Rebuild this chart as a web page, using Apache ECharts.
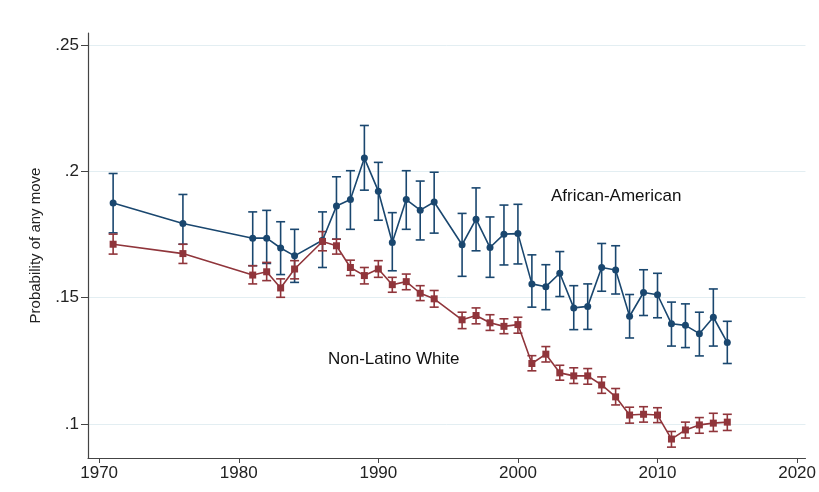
<!DOCTYPE html>
<html><head><meta charset="utf-8">
<script src="https://cdn.jsdelivr.net/npm/echarts@6/dist/echarts.min.js"></script>
<style>html,body{margin:0;padding:0;background:#fff}#c{width:819px;height:492px}</style>
</head><body><div id="c"></div>
<script>
const years = [1971,1976,1981,1982,1983,1984,1986,1987,1988,1989,1990,1991,1992,1993,1994,1996,1997,1998,1999,2000,2001,2002,2003,2004,2005,2006,2007,2008,2009,2010,2011,2012,2013,2014,2015];
const afAm     = [0.1874,0.1793,0.1735,0.1735,0.1696,0.1665,0.1727,0.1862,0.1888,0.2052,0.1921,0.1718,0.1888,0.1846,0.1878,0.1709,0.1810,0.1698,0.1751,0.1753,0.1554,0.1543,0.1596,0.1459,0.1465,0.1619,0.1609,0.1426,0.1520,0.1511,0.1396,0.1390,0.1357,0.1422,0.1322];
const afAmLow  = [0.1756,0.1711,0.1626,0.1635,0.1591,0.1560,0.1619,0.1731,0.1770,0.1925,0.1806,0.1606,0.1770,0.1728,0.1755,0.1584,0.1685,0.1580,0.1629,0.1633,0.1462,0.1452,0.1504,0.1373,0.1374,0.1525,0.1514,0.1340,0.1429,0.1420,0.1308,0.1302,0.1269,0.1308,0.1239];
const afAmHigh = [0.1991,0.1908,0.1839,0.1845,0.1800,0.1770,0.1839,0.1978,0.2002,0.2181,0.2035,0.1836,0.2002,0.1961,0.1996,0.1833,0.1934,0.1819,0.1866,0.1869,0.1669,0.1630,0.1682,0.1547,0.1554,0.1714,0.1705,0.1512,0.1610,0.1596,0.1482,0.1475,0.1442,0.1534,0.1406];
const white     = [0.1711,0.1674,0.1589,0.1602,0.1538,0.1613,0.1722,0.1705,0.1619,0.1587,0.1613,0.1551,0.1563,0.1517,0.1495,0.1412,0.1429,0.1400,0.1386,0.1393,0.1239,0.1276,0.1202,0.1190,0.1190,0.1154,0.1107,0.1035,0.1038,0.1035,0.0940,0.0976,0.0996,0.1003,0.1007];
const whiteLow  = [0.1672,0.1635,0.1554,0.1567,0.1501,0.1574,0.1685,0.1672,0.1587,0.1554,0.1580,0.1521,0.1531,0.1488,0.1462,0.1377,0.1396,0.1370,0.1357,0.1359,0.1210,0.1245,0.1173,0.1160,0.1157,0.1121,0.1075,0.1003,0.1007,0.1005,0.0908,0.0944,0.0963,0.0970,0.0974];
const whiteHigh = [0.1751,0.1711,0.1626,0.1639,0.1574,0.1646,0.1761,0.1731,0.1648,0.1619,0.1646,0.1580,0.1593,0.1547,0.1528,0.1442,0.1459,0.1432,0.1416,0.1422,0.1270,0.1306,0.1232,0.1222,0.1219,0.1186,0.1140,0.1066,0.1068,0.1064,0.0970,0.1007,0.1025,0.1042,0.1038];
const xTicks = [1970,1980,1990,2000,2010,2020];
const yTicks = [0.1,0.15,0.2,0.25];
const yTickLabels = ['.1','.15','.2','.25'];
const seriesNames = ['African-American','Non-Latino White'];

const BLUE = '#1a476f', RED = '#90353b';
const FONT = '"Liberation Sans",Arial,sans-serif';

function errData(lo, hi){ return years.map((y,i)=>[y, lo[i], hi[i]]); }
function errSeries(lo, hi, color){
  return {
    type:'custom', silent:true, z:2,
    data: errData(lo, hi),
    encode:{x:0, y:[1,2]},
    renderItem:function(params, api){
      const x = api.value(0);
      const p1 = api.coord([x, api.value(1)]);
      const p2 = api.coord([x, api.value(2)]);
      const w = 4.5;
      const st = {stroke:color, lineWidth:1.6};
      return {type:'group', children:[
        {type:'line', shape:{x1:p1[0],y1:p1[1],x2:p2[0],y2:p2[1]}, style:st},
        {type:'line', shape:{x1:p1[0]-w,y1:p1[1],x2:p1[0]+w,y2:p1[1]}, style:st},
        {type:'line', shape:{x1:p2[0]-w,y1:p2[1],x2:p2[0]+w,y2:p2[1]}, style:st}
      ]};
    }
  };
}

const chart = echarts.init(document.getElementById('c'), null, {renderer:'canvas'});
chart.setOption({
  animation:false,
  backgroundColor:'#fff',
  grid:{left:88, right:11, top:33, bottom:34, containLabel:false},
  xAxis:{
    type:'value', min:1969.2, max:2020.6,
    axisLine:{show:true, lineStyle:{color:'#444', width:1.2}},
    axisTick:{show:true, customValues:xTicks, length:5, lineStyle:{color:'#444'}},
    axisLabel:{customValues:xTicks, color:'#222', fontSize:17, fontFamily:FONT, margin:7,
      formatter:function(v){ return String(Math.round(v)); }},
    splitLine:{show:false}
  },
  yAxis:{
    type:'value', min:0.0865, max:0.2547,
    name:'Probability of any move', nameLocation:'middle', nameRotate:90, nameGap:45,
    nameTextStyle:{color:'#222', fontSize:15, fontFamily:FONT},
    axisLine:{show:true, lineStyle:{color:'#444', width:1.2}},
    axisTick:{show:true, customValues:yTicks, length:7, lineStyle:{color:'#444'}},
    axisLabel:{customValues:yTicks, color:'#222', fontSize:17, fontFamily:FONT, margin:9,
      formatter:function(v){ const i = yTicks.findIndex(t=>Math.abs(t-v)<1e-9); return i>=0 ? yTickLabels[i] : ''; }},
    splitLine:{show:true, lineStyle:{color:'#e3eef2', width:1}}
  },
  graphic:[
    {type:'text', left:551, top:188, style:{text:seriesNames[0], fill:'#111', fontSize:17, fontFamily:FONT}},
    {type:'text', left:328, top:351, style:{text:seriesNames[1], fill:'#111', fontSize:17, fontFamily:FONT}}
  ],
  series:[
    errSeries(afAmLow, afAmHigh, BLUE),
    errSeries(whiteLow, whiteHigh, RED),
    {name:seriesNames[0], type:'line', z:3, data:years.map((y,i)=>[y, afAm[i]]),
     symbol:'circle', symbolSize:7, lineStyle:{color:BLUE, width:1.6}, itemStyle:{color:BLUE}},
    {name:seriesNames[1], type:'line', z:3, data:years.map((y,i)=>[y, white[i]]),
     symbol:'rect', symbolSize:7, lineStyle:{color:RED, width:1.6}, itemStyle:{color:RED}}
  ]
});
</script>
</body></html>
